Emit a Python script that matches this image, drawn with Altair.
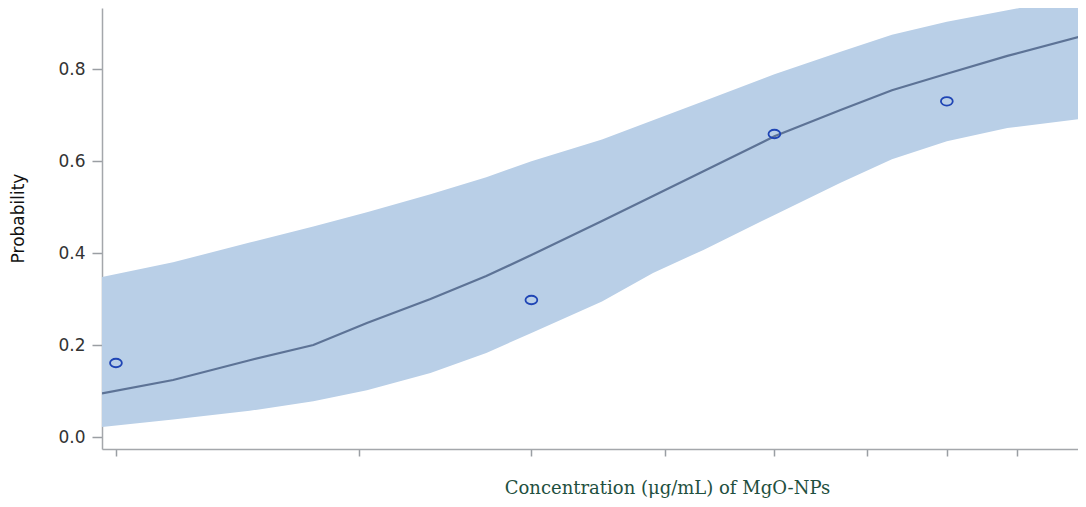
import altair as alt
import pandas as pd

# fitted curve with confidence band
conc = [1.954, 2.2, 2.5, 2.78, 3.04, 3.38, 3.71, 4.0, 4.5, 4.9, 5.33, 6.0, 6.7, 7.3, 8.0, 8.85, 10.09]
fit = [0.095, 0.124, 0.167, 0.200, 0.248, 0.300, 0.350, 0.396, 0.470, 0.524, 0.578, 0.654, 0.711, 0.754, 0.790, 0.829, 0.874]
lower = [0.022, 0.038, 0.057, 0.078, 0.102, 0.139, 0.183, 0.226, 0.295, 0.357, 0.407, 0.483, 0.553, 0.604, 0.643, 0.672, 0.693]
upper = [0.348, 0.380, 0.423, 0.458, 0.489, 0.528, 0.565, 0.600, 0.647, 0.689, 0.730, 0.789, 0.838, 0.875, 0.903, 0.928, 0.960]

# observed points
obs_conc = [2, 4, 6, 8]
obs_prob = [0.161, 0.298, 0.659, 0.730]

x_ticks = [2, 3, 4, 5, 6, 7, 8, 9, 10]
y_ticks = [0.0, 0.2, 0.4, 0.6, 0.8]

curve = pd.DataFrame({"conc": conc, "fit": fit, "lower": lower, "upper": upper})
obs = pd.DataFrame({"conc": obs_conc, "prob": obs_prob})

xscale = alt.Scale(type="log", domain=[1.954, 9.957], nice=False, zero=False)
yscale = alt.Scale(domain=[-0.026, 0.933], nice=False, zero=False)

xaxis = alt.Axis(
    values=x_ticks, labels=False, grid=False, tickSize=7, tickColor="#9a9ea3",
    domainColor="#a4a7ab", domainWidth=1.5, tickWidth=1.5,
    title="Concentration (μg/mL) of MgO-NPs", titleFont="DejaVu Serif",
    titleFontSize=18, titleFontWeight="normal", titleColor="#1f5040",
    titleX=565, titleY=39, titleBaseline="middle", titleAlign="center", titleAngle=0,
)
yaxis = alt.Axis(
    values=y_ticks, format=".1f", grid=False, tickSize=10, tickColor="#9a9ea3",
    domainColor="#a4a7ab", domainWidth=1.5, tickWidth=1.5,
    labelFont="DejaVu Sans", labelFontSize=17, labelColor="#333333", labelPadding=7,
    title="Probability", titleFont="DejaVu Sans", titleFontSize=17,
    titleFontWeight="normal", titleColor="#111111",
    titleX=-84, titleY=210, titleAngle=270, titleBaseline="middle", titleAlign="center",
)

band = alt.Chart(curve).mark_area(color="#b9cfe7", opacity=1, clip=True).encode(
    x=alt.X("conc:Q", scale=xscale, axis=xaxis),
    y=alt.Y("lower:Q", scale=yscale, axis=yaxis),
    y2="upper:Q",
)

line = alt.Chart(curve).mark_line(color="#5d7396", strokeWidth=2.2, clip=True).encode(
    x=alt.X("conc:Q", scale=xscale),
    y=alt.Y("fit:Q", scale=yscale),
)

ellipse = "M -1 0 A 1 0.72 0 1 0 1 0 A 1 0.72 0 1 0 -1 0 Z"
points = alt.Chart(obs).mark_point(
    shape=ellipse, size=140, filled=False, color="#1f45b5", strokeWidth=1.8, opacity=1
).encode(
    x=alt.X("conc:Q", scale=xscale),
    y=alt.Y("prob:Q", scale=yscale),
)

chart = (band + line + points).properties(
    width=976, height=441,
    autosize=alt.AutoSizeParams(type="none"),
    padding={"left": 94, "top": 0, "right": 0, "bottom": 50},
).configure_view(stroke="transparent")

chart.save("out.html", embed_options={"renderer": "svg", "actions": False})
